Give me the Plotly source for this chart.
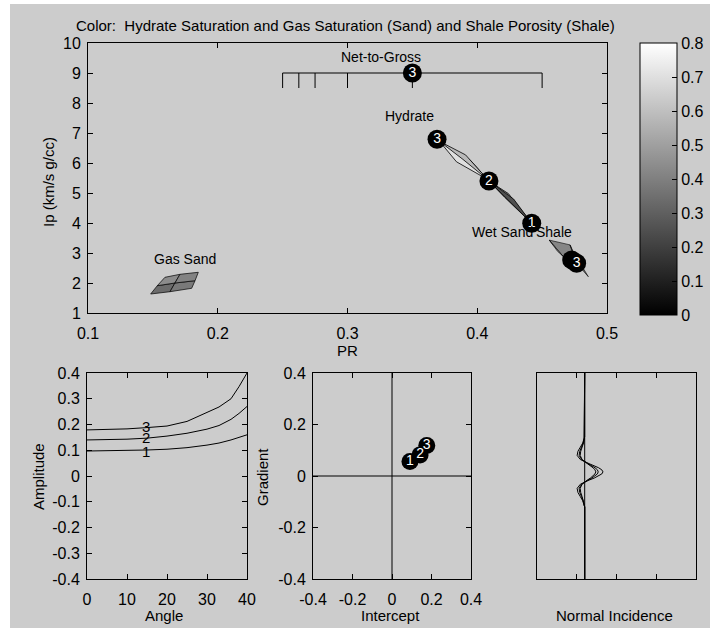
import plotly.graph_objects as go

FONT = "Liberation Sans, Arial, Helvetica, sans-serif"
W, H = 710, 628

# ---------------- main panel (PR vs Ip) ----------------
pr_ticks = [0.1, 0.2, 0.3, 0.4, 0.5]
ip_ticks = [1, 2, 3, 4, 5, 6, 7, 8, 9, 10]

ntg_line_pr = [0.25, 0.45]
ntg_line_ip = [9.0, 9.0]
ntg_tick_pr = [0.25, 0.2625, 0.275, 0.3, 0.35, 0.45]
ntg_tick_ip = [9.0, 8.5]

ntg_pt_pr = [0.35]
ntg_pt_ip = [9.0]
ntg_pt_lab = ["3"]

hyd_pt_pr = [0.369, 0.409, 0.442]
hyd_pt_ip = [6.79, 5.40, 3.99]
hyd_pt_lab = ["3", "2", "1"]

shale_pt_pr = [0.4728, 0.4766]
shale_pt_ip = [2.77, 2.66]
shale_pt_lab = ["", "3"]

# gas sand surface (3x3 vertex grid) and saturations of the 4 cells
gas_pr = [[0.1483, 0.1632, 0.1799],
          [0.1534, 0.1670, 0.1825],
          [0.1593, 0.1709, 0.1850]]
gas_ip = [[1.633, 1.710, 1.823],
          [1.910, 2.000, 2.077],
          [2.190, 2.290, 2.357]]
gas_val = [[0.34, 0.38],
           [0.44, 0.41]]

# hydrate patches (quads) and their colour values
hyd_patch_pr = [[0.371, 0.395, 0.408, 0.384],
                [0.371, 0.391, 0.408, 0.389],
                [0.409, 0.424, 0.442, 0.421],
                [0.409, 0.428, 0.442, 0.425]]
hyd_patch_ip = [[6.72, 6.08, 5.45, 6.04],
                [6.72, 6.27, 5.45, 6.12],
                [5.40, 4.98, 3.99, 4.86],
                [5.40, 4.80, 3.99, 4.70]]
hyd_patch_val = [0.70, 0.58, 0.45, 0.25]

# shale patches
shale_patch_pr = [[0.4555, 0.4715, 0.4766, 0.4663],
                  [0.4715, 0.4740, 0.4856, 0.4766],
                  [0.4555, 0.4663, 0.4740, 0.4620]]
shale_patch_ip = [[3.43, 3.27, 2.66, 2.88],
                  [3.27, 3.04, 2.21, 2.66],
                  [3.43, 2.88, 2.60, 3.05]]
shale_patch_val = [0.42, 0.36, 0.48]

main_labels = ["Net-to-Gross", "Hydrate", "Wet Sand", "Shale", "Gas Sand"]
main_label_pr = [0.326, 0.348, 0.4195, 0.4594, 0.1748]
main_label_ip = [9.52, 7.57, 3.70, 3.70, 2.80]

cbar_ticks = [0, 0.1, 0.2, 0.3, 0.4, 0.5, 0.6, 0.7, 0.8]

# ---------------- AVO panel ----------------
angle = [0, 5, 10, 15, 20, 25, 30, 33, 36, 38, 40]
amp1 = [0.097, 0.098, 0.099, 0.101, 0.104, 0.110, 0.120, 0.128, 0.140, 0.149, 0.160]
amp2 = [0.140, 0.141, 0.143, 0.147, 0.155, 0.166, 0.182, 0.196, 0.220, 0.243, 0.270]
amp3 = [0.179, 0.180, 0.183, 0.188, 0.194, 0.212, 0.246, 0.268, 0.300, 0.347, 0.400]
avo_lab = ["1", "2", "3"]
avo_lab_angle = [14.7, 14.7, 14.7]
avo_lab_amp = [0.094, 0.148, 0.191]
angle_ticks = [0, 10, 20, 30, 40]
amp_ticks = [-0.4, -0.3, -0.2, -0.1, 0, 0.1, 0.2, 0.3, 0.4]
amp_tick_text = ["-0.4", "-0.3", "-0.2", "-0.1", "0", "0.1", "0.2", "0.3", "0.4"]

# ---------------- Intercept / Gradient panel ----------------
ig_intercept = [0.091, 0.142, 0.176]
ig_gradient = [0.056, 0.082, 0.118]
ig_lab = ["1", "2", "3"]
ig_ticks = [-0.4, -0.2, 0, 0.2, 0.4]
ig_tick_text = ["-0.4", "-0.2", "0", "0.2", "0.4"]

# ---------------- Normal incidence traces ----------------
ni_time = [0, 31, 32, 34, 36, 38, 40, 42, 44, 45, 46, 47, 48, 49, 50, 51, 52, 54, 56, 58, 60, 62, 64, 65, 100]
ni_big = [0, 0, -0.02, -0.05, -0.11, -0.17, -0.19, -0.11, 0.11, 0.24, 0.35, 0.43, 0.46, 0.43, 0.35, 0.24, 0.11,
          -0.11, -0.19, -0.17, -0.11, -0.05, -0.02, 0, 0]
ni_mid = [0, 0, -0.015, -0.037, -0.08, -0.125, -0.14, -0.08, 0.08, 0.18, 0.26, 0.32, 0.34, 0.32, 0.26, 0.18, 0.08,
          -0.08, -0.14, -0.125, -0.08, -0.037, -0.015, 0, 0]
ni_small = [0, 0, -0.012, -0.03, -0.066, -0.10, -0.114, -0.066, 0.066, 0.144, 0.21, 0.258, 0.28, 0.258, 0.21,
            0.144, 0.066, -0.066, -0.114, -0.10, -0.066, -0.03, -0.012, 0, 0]
ni_base = 1.2
ni_xticks = [1, 2, 3]

# -------------------------------------------------------
CMAX = 0.8
TICK = 16


def gray(v):
    g = int(round(max(0, min(1, v / CMAX)) * 255))
    return f"rgb({g},{g},{g})"


fig = go.Figure()


def poly(xs, ys, color, xa="x", ya="y", lw=0.7):
    fig.add_trace(go.Scatter(x=list(xs) + [xs[0]], y=list(ys) + [ys[0]], mode="lines", fill="toself",
                             fillcolor=color, line=dict(color="black", width=lw),
                             xaxis=xa, yaxis=ya, hoverinfo="skip", showlegend=False))


def line(xs, ys, xa="x", ya="y", lw=1, color="black"):
    fig.add_trace(go.Scatter(x=xs, y=ys, mode="lines", line=dict(color=color, width=lw),
                             xaxis=xa, yaxis=ya, hoverinfo="skip", showlegend=False))


def circles(xs, ys, labs, xa="x", ya="y", size=19):
    fig.add_trace(go.Scatter(x=xs, y=ys, mode="markers+text", text=labs, textposition="middle center",
                             textfont=dict(color="white", size=14, family=FONT),
                             marker=dict(color="black", size=size, line=dict(width=0)),
                             xaxis=xa, yaxis=ya, hoverinfo="skip", showlegend=False))


# gas sand
for i in range(2):
    for j in range(2):
        xs = [gas_pr[i][j], gas_pr[i][j + 1], gas_pr[i + 1][j + 1], gas_pr[i + 1][j]]
        ys = [gas_ip[i][j], gas_ip[i][j + 1], gas_ip[i + 1][j + 1], gas_ip[i + 1][j]]
        poly(xs, ys, gray(gas_val[i][j]))

for xs, ys, v in zip(hyd_patch_pr, hyd_patch_ip, hyd_patch_val):
    poly(xs, ys, gray(v), lw=0.8)
for xs, ys, v in zip(shale_patch_pr, shale_patch_ip, shale_patch_val):
    poly(xs, ys, gray(v), lw=0.6)

# net to gross
line(ntg_line_pr, ntg_line_ip)
for p in ntg_tick_pr:
    line([p, p], ntg_tick_ip)

circles(ntg_pt_pr, ntg_pt_ip, ntg_pt_lab)
circles(hyd_pt_pr, hyd_pt_ip, hyd_pt_lab)
circles(shale_pt_pr, shale_pt_ip, shale_pt_lab)

# colorbar holder
fig.add_trace(go.Scatter(
    x=[0.3, 0.3], y=[5, 5], mode="markers", hoverinfo="skip", showlegend=False,
    marker=dict(size=1, opacity=0, color=[0, CMAX], cmin=0, cmax=CMAX,
                colorscale=[[0, "black"], [1, "white"]], showscale=True,
                colorbar=dict(x=640 / W, xanchor="left", y=1 - 43 / H, yanchor="top",
                              len=272, lenmode="pixels", thickness=37, thicknessmode="pixels",
                              xpad=0, ypad=0, outlinewidth=1, outlinecolor="black",
                              tickvals=cbar_ticks, ticks="inside", ticklen=5, tickcolor="black",
                              tickfont=dict(size=TICK, color="black", family=FONT))),
    xaxis="x", yaxis="y"))

# AVO curves
for a in (amp1, amp2, amp3):
    line(angle, a, "x2", "y2")

# intercept/gradient
line([0, 0], [-0.4, 0.4], "x3", "y3")
line([-0.4, 0.4], [0, 0], "x3", "y3")
circles(ig_intercept, ig_gradient, ig_lab, "x3", "y3", size=17)

# normal incidence
line([ni_base, ni_base], [0, 100], "x4", "y4")
for tr in (ni_small, ni_mid, ni_big):
    line([ni_base + v for v in tr], ni_time, "x4", "y4", lw=1)

ax = dict(showline=True, linecolor="black", linewidth=1, mirror="ticks", ticks="inside", ticklen=5,
          tickcolor="black", showgrid=False, zeroline=False, automargin=False,
          tickfont=dict(size=TICK, color="black", family=FONT))

anns = []
for t, x, y in zip(main_labels, main_label_pr, main_label_ip):
    anns.append(dict(text=t, x=x, y=y, xref="x", yref="y", showarrow=False,
                     font=dict(size=14, color="black", family=FONT)))
for t, x, y in zip(avo_lab, avo_lab_angle, avo_lab_amp):
    anns.append(dict(text=t, x=x, y=y, xref="x2", yref="y2", showarrow=False,
                     font=dict(size=15, color="black", family=FONT)))


def ptxt(t, px, py, angle=0):
    anns.append(dict(text=t, x=px / W, y=1 - py / H, xref="paper", yref="paper", showarrow=False,
                     xanchor="center", yanchor="middle", textangle=angle,
                     font=dict(size=15, color="black", family=FONT)))


ptxt("Color:  Hydrate Saturation and Gas Saturation (Sand) and Shale Porosity (Shale)", 345, 26)
ptxt("Ip (km/s g/cc)", 48, 182, -90)
ptxt("PR", 347, 350)
ptxt("Amplitude", 38, 477, -90)
ptxt("Angle", 164, 615)
ptxt("Gradient", 262, 477, -90)
ptxt("Intercept", 390, 615)
ptxt("Normal Incidence", 614, 615)

top_dom = [1 - 313 / H, 1 - 43 / H]
bot_dom = [1 - 579 / H, 1 - 373 / H]

fig.update_layout(
    template="none",
    width=W, height=H, margin=dict(l=0, r=0, t=0, b=0, pad=0, autoexpand=False),
    paper_bgcolor="white", plot_bgcolor="white",
    font=dict(family=FONT, size=15, color="black"),
    showlegend=False,
    xaxis=dict(ax, domain=[88 / W, 607 / W], range=[0.1, 0.5], tickvals=pr_ticks, anchor="y",
               ticklabelstandoff=6),
    yaxis=dict(ax, domain=top_dom, range=[1, 10], tickvals=ip_ticks, anchor="x", ticklabelstandoff=3),
    xaxis2=dict(ax, domain=[87 / W, 247 / W], range=[0, 40], tickvals=angle_ticks, anchor="y2",
                ticklabelstandoff=6),
    yaxis2=dict(ax, domain=bot_dom, range=[-0.4, 0.4], tickvals=amp_ticks, ticktext=amp_tick_text,
                anchor="x2", ticklabelstandoff=3),
    xaxis3=dict(ax, domain=[313 / W, 471 / W], range=[-0.4, 0.4], tickvals=ig_ticks, ticktext=ig_tick_text,
                anchor="y3", ticklabelstandoff=6),
    yaxis3=dict(ax, domain=bot_dom, range=[-0.4, 0.4], tickvals=ig_ticks, ticktext=ig_tick_text,
                anchor="x3", ticklabelstandoff=3),
    xaxis4=dict(ax, domain=[537 / W, 696 / W], range=[0, 4], tickvals=ni_xticks, showticklabels=False,
                anchor="y4"),
    yaxis4=dict(ax, domain=bot_dom, range=[100, 0], ticks="", showticklabels=False, anchor="x4"),
    annotations=anns,
    shapes=[dict(type="rect", xref="paper", yref="paper", x0=10 / W, x1=1, y0=0, y1=1 - 4 / H,
                 fillcolor="#cccccc", line=dict(width=0), layer="below")],
)

fig.write_html("out.html", config={"displayModeBar": False},
               post_script="document.body.style.margin='0';document.body.style.padding='0';")
